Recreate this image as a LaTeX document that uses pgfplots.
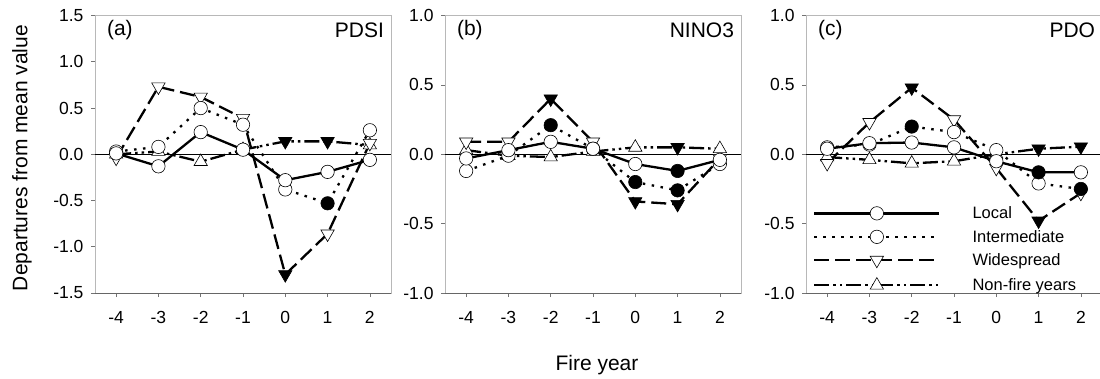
\documentclass[border=0pt]{standalone}
\usepackage{fontspec}
\setmainfont{Liberation Sans}
\usepackage{pgfplots}
\usepackage{pgfplotstable}
\pgfplotsset{compat=1.18}

\pgfdeclareplotmark{dtri*}{%
  \pgfpathmoveto{\pgfqpoint{0pt}{-\pgfplotmarksize}}%
  \pgfpathlineto{\pgfqpoint{0.866\pgfplotmarksize}{0.5\pgfplotmarksize}}%
  \pgfpathlineto{\pgfqpoint{-0.866\pgfplotmarksize}{0.5\pgfplotmarksize}}%
  \pgfpathclose
  \pgfusepathqfillstroke}

\pgfplotstableread{
x L Ls I Is W Ws N Ns
-4 0.01 o 0.03 o -0.04 o 0.00 o
-3 -0.13 o 0.08 o 0.73 o 0.03 o
-2 0.24 o 0.50 o 0.62 o -0.08 o
-1 0.05 o 0.32 o 0.39 o 0.05 o
0 -0.28 o -0.38 o -1.30 f 0.14 f
1 -0.19 o -0.53 f -0.86 o 0.14 f
2 -0.06 o 0.26 o 0.12 o 0.10 o
}\tabA

\pgfplotstableread{
x L Ls I Is W Ws N Ns
-4 -0.03 o -0.12 o 0.09 o 0.03 o
-3 0.03 o -0.01 o 0.09 o -0.01 o
-2 0.09 o 0.21 f 0.40 f -0.02 o
-1 0.04 o 0.04 o 0.09 o 0.02 o
0 -0.07 o -0.20 f -0.34 f 0.05 o
1 -0.12 f -0.26 f -0.36 f 0.05 f
2 -0.04 o -0.07 o -0.03 o 0.04 o
}\tabB

\pgfplotstableread{
x L Ls I Is W Ws N Ns
-4 0.04 o 0.05 o -0.065 o -0.02 o
-3 0.08 o 0.07 o 0.23 o -0.04 o
-2 0.085 o 0.20 f 0.48 f -0.065 o
-1 0.05 o 0.16 o 0.25 o -0.05 o
0 -0.05 o 0.03 o -0.10 o 0.00 o
1 -0.13 f -0.21 o -0.48 f 0.04 f
2 -0.13 o -0.25 f -0.28 o 0.055 f
}\tabC

\pgfplotsset{
  cmark/.style={scatter, scatter src=explicit symbolic,
    scatter/classes={
      o={mark=*, mark size=6.7bp, solid, draw=black, fill=white, line width=0.6bp},
      f={mark=*, mark size=6.7bp, solid, draw=black, fill=black, line width=0.6bp}}},
  dmark/.style={scatter, scatter src=explicit symbolic,
    scatter/classes={
      o={mark=dtri*, mark size=7.7bp, solid, draw=black, fill=white, line width=0.6bp},
      f={mark=dtri*, mark size=7.7bp, solid, draw=black, fill=black, line width=0.6bp}}},
  umark/.style={scatter, scatter src=explicit symbolic,
    scatter/classes={
      o={mark=triangle*, mark size=7.7bp, solid, draw=black, fill=white, line width=0.6bp},
      f={mark=dtri*, mark size=7.7bp, solid, draw=black, fill=black, line width=0.6bp}}},
  Lline/.style={black, line width=2.3bp, solid},
  Iline/.style={black, line width=2.3bp, dash pattern=on 2.5bp off 6.5bp},
  Wline/.style={black, line width=2.3bp, dash pattern=on 15bp off 6bp},
  Nline/.style={black, line width=2.3bp, dash pattern=on 15bp off 4bp on 2.5bp off 4bp on 2.5bp off 4bp},
  panel/.style={
    scale only axis, width=296bp, height=277.4bp,
    xmin=-4.5, xmax=2.5,
    xtick={-4,-3,-2,-1,0,1,2},
    xticklabels={-4,-3,-2,-1,0,1,2},
    axis line style={black!28, line width=0.8bp},
    tick align=outside, major tick length=4bp,
    tick style={black!55, line width=0.7bp},
    xtick pos=bottom, ytick pos=left,
    ticklabel style={font=\fontsize{17.5bp}{20bp}\selectfont, black},
    xticklabel style={yshift=-11bp},
    yticklabel style={xshift=-4bp},
    clip=false,
  },
}

\newcommand{\fourplots}[1]{%
  \addplot[black, line width=0.7bp, forget plot] coordinates {(-4.5,0) (2.5,0)};
  \draw[black!60, line width=0.8bp] (rel axis cs:0,0) -- (rel axis cs:1,0);
  \addplot[Nline, umark, forget plot] table[x=x, y=N, meta=Ns] {#1};
  \addplot[Wline, dmark, forget plot] table[x=x, y=W, meta=Ws] {#1};
  \addplot[Iline, cmark, forget plot] table[x=x, y=I, meta=Is] {#1};
  \addplot[Lline, cmark, forget plot] table[x=x, y=L, meta=Ls] {#1};
}

\begin{document}
\begin{tikzpicture}[x=1bp, y=1bp]
\useasboundingbox (0,0) rectangle (1100,378);

\begin{axis}[panel, at={(95bp,85bp)}, anchor=south west,
  ymin=-1.5, ymax=1.5,
  ytick={-1.5,-1,-0.5,0,0.5,1,1.5},
  yticklabels={-1.5,-1.0,-0.5,0.0,0.5,1.0,1.5}]
  \fourplots{\tabA}
  \node[anchor=west, inner sep=0pt, font=\fontsize{21bp}{24bp}\selectfont] at (rel axis cs:0.04,0.948) {(a)};
  \node[anchor=east, inner sep=0pt, font=\fontsize{21bp}{24bp}\selectfont] at (rel axis cs:0.977,0.948) {PDSI};
\end{axis}

\begin{axis}[panel, at={(445bp,85bp)}, anchor=south west,
  ymin=-1, ymax=1,
  ytick={-1,-0.5,0,0.5,1},
  yticklabels={-1.0,-0.5,0.0,0.5,1.0}]
  \fourplots{\tabB}
  \node[anchor=west, inner sep=0pt, font=\fontsize{21bp}{24bp}\selectfont] at (rel axis cs:0.04,0.948) {(b)};
  \node[anchor=east, inner sep=0pt, font=\fontsize{21bp}{24bp}\selectfont] at (rel axis cs:0.977,0.948) {NINO3};
\end{axis}

\begin{axis}[panel, at={(806bp,85bp)}, anchor=south west,
  ymin=-1, ymax=1,
  ytick={-1,-0.5,0,0.5,1},
  yticklabels={-1.0,-0.5,0.0,0.5,1.0},
  legend image code/.code={\draw[mark repeat=2, mark phase=2, #1] plot coordinates {(0bp,5.5bp) (62.5bp,5.5bp) (125bp,5.5bp)};},
  legend style={draw=none, fill=none, at={(0.0236,0.312)}, anchor=north west,
    font=\fontsize{16.5bp}{19bp}\selectfont, row sep=9.8bp, inner sep=0pt,
    nodes={inner sep=0pt, anchor=base west},
    /tikz/every odd column/.append style={column sep=32bp}},
  legend cell align=left]
  \fourplots{\tabC}
  \addlegendimage{Lline, mark=*, mark size=6.7bp, mark options={solid, draw=black, fill=white, line width=0.6bp}}
  \addlegendentry{Local}
  \addlegendimage{Iline, mark=*, mark size=6.7bp, mark options={solid, draw=black, fill=white, line width=0.6bp}}
  \addlegendentry{Intermediate}
  \addlegendimage{Wline, mark=dtri*, mark size=7.7bp, mark options={solid, draw=black, fill=white, line width=0.6bp}}
  \addlegendentry{Widespread}
  \addlegendimage{Nline, mark=triangle*, mark size=7.7bp, mark options={solid, draw=black, fill=white, line width=0.6bp}}
  \addlegendentry{Non-fire years}
  \node[anchor=west, inner sep=0pt, font=\fontsize{21bp}{24bp}\selectfont] at (rel axis cs:0.04,0.948) {(c)};
  \node[anchor=east, inner sep=0pt, font=\fontsize{21bp}{24bp}\selectfont] at (rel axis cs:0.977,0.948) {PDO};
\end{axis}

\node[rotate=90, font=\fontsize{21bp}{24bp}\selectfont] at (22,220) {Departures from mean value};
\node[anchor=base, font=\fontsize{21bp}{24bp}\selectfont] at (597,8) {Fire year};
\end{tikzpicture}
\end{document}
